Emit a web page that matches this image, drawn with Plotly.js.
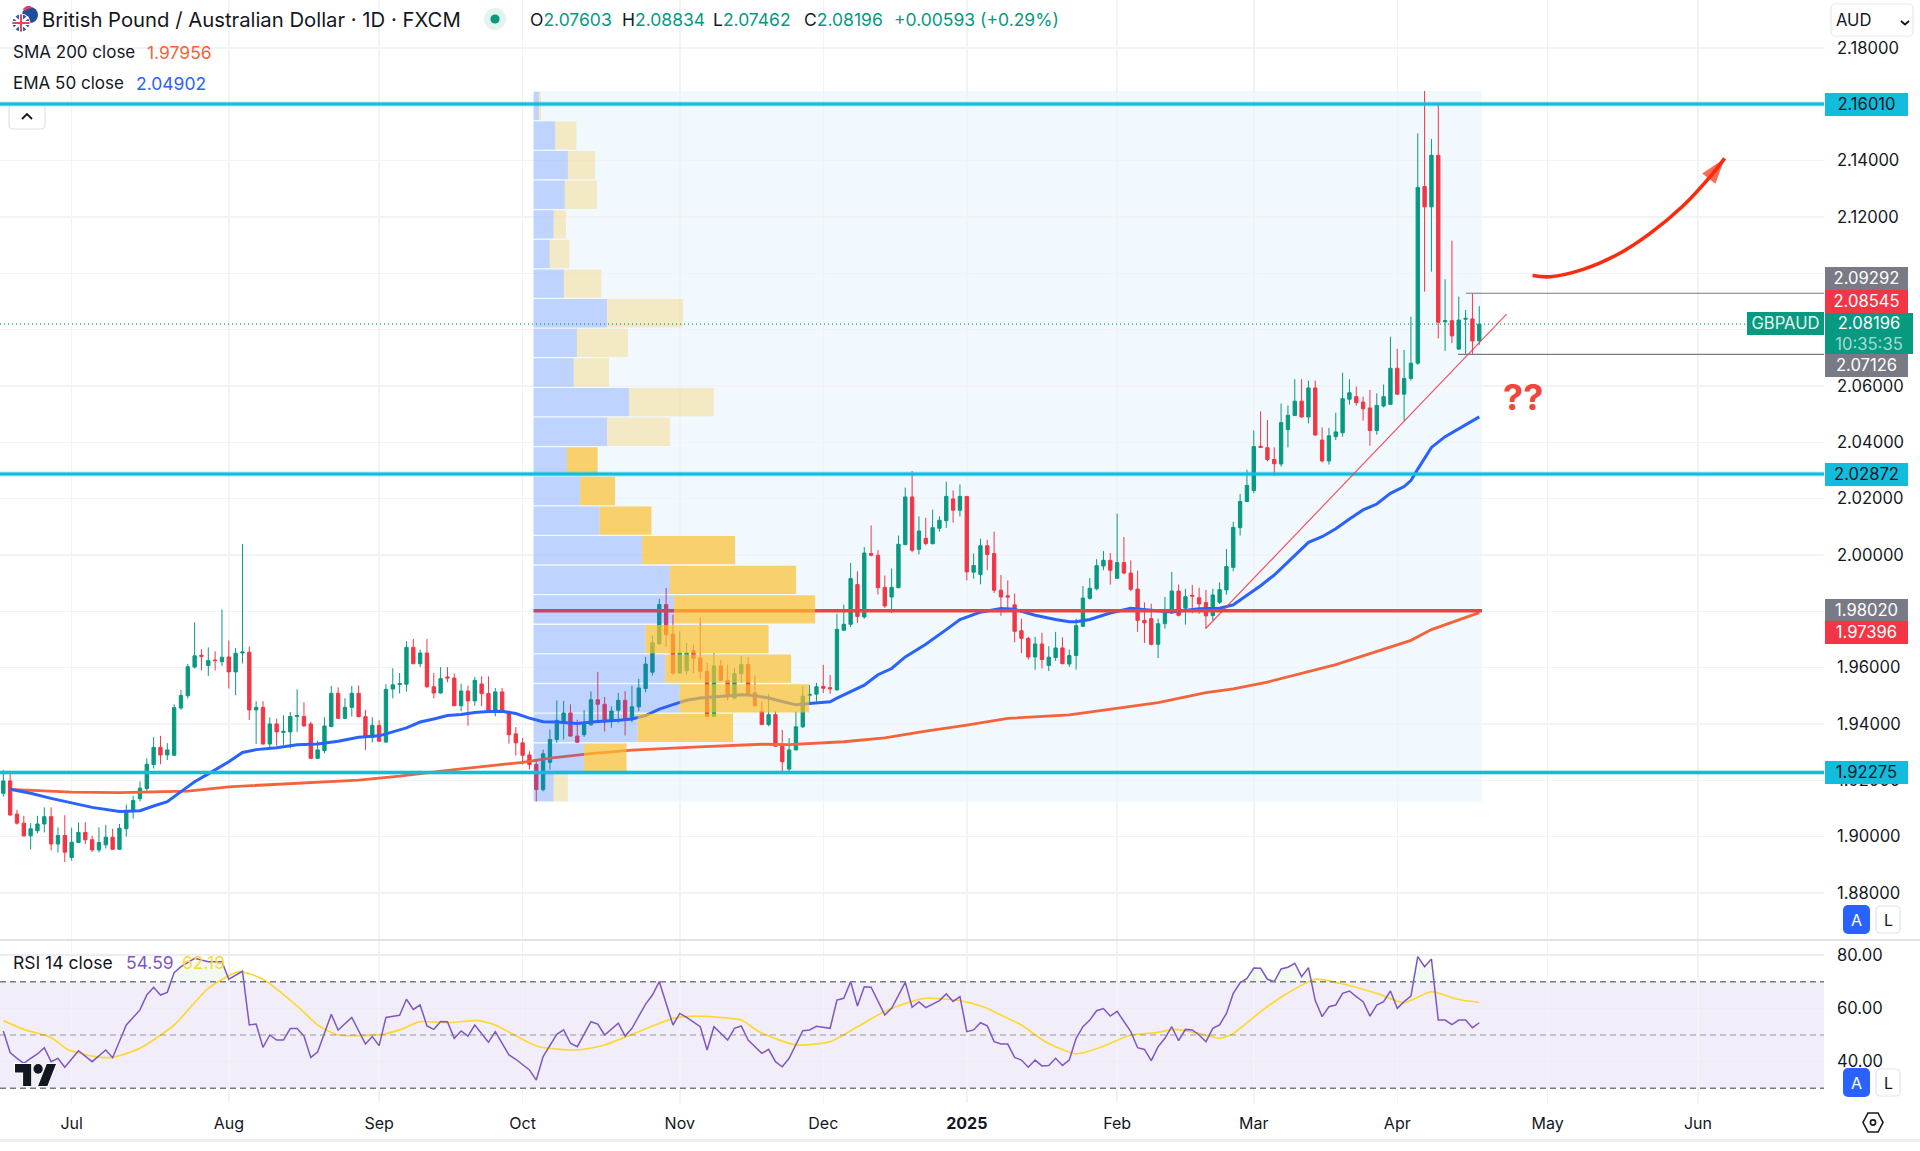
<!DOCTYPE html>
<html><head><meta charset="utf-8">
<script src="https://cdn.plot.ly/plotly-3.0.1.min.js"></script>
<style>html,body{margin:0;padding:0;background:#fff}#c{width:1920px;height:1151px}</style>
</head><body><div id="c"></div>
<script>
const opens=[1.9154,1.9198,1.9080,1.9048,1.9003,1.9021,1.9045,1.9071,1.8974,1.9004,
1.8926,1.8979,1.9015,1.8989,1.8953,1.8971,1.8998,1.8955,1.9028,1.9091,
1.9135,1.9171,1.9256,1.9317,1.9290,1.9289,1.9457,1.9500,1.9602,1.9644,
1.9608,1.9627,1.9621,1.9638,1.9585,1.9652,1.9655,1.9450,1.9459,1.9329,
1.9400,1.9370,1.9372,1.9426,1.9427,1.9400,1.9278,1.9306,1.9391,1.9509,
1.9420,1.9459,1.9509,1.9426,1.9353,1.9395,1.9336,1.9524,1.9540,1.9541,
1.9672,1.9614,1.9652,1.9532,1.9510,1.9567,1.9563,1.9465,1.9517,1.9482,
1.9542,1.9508,1.9446,1.9514,1.9445,1.9365,1.9333,1.9290,1.9256,1.9167,
1.9264,1.9345,1.9407,1.9439,1.9357,1.9362,1.9397,1.9486,1.9470,1.9409,
1.9449,1.9484,1.9415,1.9461,1.9526,1.9584,1.9685,1.9824,1.9719,1.9581,
1.9589,1.9660,1.9634,1.9587,1.9427,1.9606,1.9555,1.9492,1.9579,1.9611,
1.9511,1.9445,1.9398,1.9433,1.9320,1.9240,1.9308,1.9390,1.9502,1.9506,
1.9533,1.9529,1.9521,1.9733,1.9754,1.9895,1.9780,2.0005,1.9999,1.9885,
1.9851,1.9884,2.0037,2.0206,2.0020,2.0059,2.0040,2.0095,2.0122,2.0199,
2.0159,2.0208,1.9939,1.9931,2.0033,2.0005,1.9875,1.9855,1.9823,1.9731,
1.9704,1.9638,1.9684,1.9608,1.9636,1.9670,1.9613,1.9643,1.9747,1.9846,
1.9880,1.9961,1.9981,1.9917,1.9973,1.9936,1.9879,1.9768,1.9774,1.9683,
1.9756,1.9794,1.9872,1.9811,1.9857,1.9848,1.9831,1.9785,1.9832,1.9876,
1.9956,2.0097,2.0190,2.0229,2.0386,2.0381,2.0339,2.0323,2.0445,2.0495,
2.0546,2.0490,2.0593,2.0408,2.0334,2.0420,2.0434,2.0553,2.0562,2.0543,
2.0522,2.0442,2.0529,2.0535,2.0663,2.0571,2.0627,2.0681,2.1308,2.1236,
2.1419,2.0828,2.0832,2.0731,2.0837,2.0838,2.07603];
const highs=[1.9237,1.9234,1.9095,1.9074,1.9048,1.9074,1.9104,1.9104,1.9033,1.9076,
1.9032,1.9051,1.9051,1.9003,1.9033,1.9042,1.9028,1.9045,1.9114,1.9145,
1.9196,1.9278,1.9353,1.9358,1.9332,1.9470,1.9521,1.9613,1.9761,1.9665,
1.9672,1.9658,1.9807,1.9696,1.9670,2.0039,1.9675,1.9481,1.9481,1.9424,
1.9419,1.9431,1.9443,1.9523,1.9477,1.9408,1.9341,1.9424,1.9535,1.9530,
1.9491,1.9535,1.9537,1.9450,1.9424,1.9413,1.9541,1.9598,1.9581,1.9694,
1.9702,1.9664,1.9702,1.9581,1.9602,1.9602,1.9579,1.9543,1.9536,1.9567,
1.9569,1.9569,1.9528,1.9528,1.9445,1.9389,1.9350,1.9303,1.9271,1.9309,
1.9380,1.9484,1.9482,1.9470,1.9415,1.9449,1.9516,1.9585,1.9496,1.9463,
1.9510,1.9517,1.9536,1.9560,1.9638,1.9714,1.9844,1.9883,1.9788,1.9729,
1.9688,1.9682,1.9779,1.9617,1.9652,1.9628,1.9611,1.9599,1.9643,1.9638,
1.9572,1.9481,1.9507,1.9445,1.9379,1.9350,1.9444,1.9535,1.9538,1.9546,
1.9610,1.9574,1.9792,1.9824,1.9972,1.9942,2.0028,2.0105,2.0017,1.9927,
1.9952,2.0069,2.0239,2.0298,2.0137,2.0132,2.0161,2.0137,2.0260,2.0229,
2.0251,2.0208,2.0005,2.0058,2.0054,2.0083,1.9929,1.9910,1.9863,1.9774,
1.9709,1.9709,1.9724,1.9676,1.9727,1.9708,1.9664,1.9774,1.9890,1.9918,
1.9985,2.0014,2.0007,2.0147,2.0064,1.9981,1.9944,1.9832,1.9827,1.9774,
1.9851,1.9940,1.9895,1.9880,1.9894,1.9884,1.9876,1.9880,1.9903,2.0021,
2.0118,2.0217,2.0303,2.0442,2.0510,2.0479,2.0382,2.0538,2.0531,2.0624,
2.0624,2.0619,2.0619,2.0453,2.0451,2.0505,2.0647,2.0624,2.0598,2.0562,
2.0586,2.0574,2.0605,2.0775,2.0732,2.0728,2.0846,2.1497,2.1647,2.1477,
2.1598,2.0979,2.1116,2.0917,2.0870,2.09292,2.08834];
const lows=[1.9142,1.9074,1.9043,1.9000,1.8955,1.9012,1.9015,1.8951,1.8944,1.8910,
1.8915,1.8978,1.8974,1.8946,1.8944,1.8958,1.8953,1.8953,1.9000,1.9064,
1.9125,1.9160,1.9242,1.9257,1.9272,1.9287,1.9450,1.9491,1.9597,1.9590,
1.9571,1.9590,1.9606,1.9526,1.9502,1.9615,1.9414,1.9329,1.9327,1.9315,
1.9322,1.9326,1.9314,1.9372,1.9391,1.9277,1.9277,1.9296,1.9388,1.9419,
1.9417,1.9426,1.9424,1.9308,1.9334,1.9336,1.9334,1.9491,1.9508,1.9515,
1.9612,1.9602,1.9529,1.9491,1.9508,1.9548,1.9463,1.9445,1.9394,1.9465,
1.9463,1.9444,1.9427,1.9439,1.9330,1.9288,1.9256,1.9238,1.9125,1.9161,
1.9238,1.9333,1.9345,1.9356,1.9333,1.9354,1.9394,1.9409,1.9373,1.9387,
1.9404,1.9359,1.9406,1.9445,1.9513,1.9572,1.9682,1.9673,1.9574,1.9579,
1.9575,1.9581,1.9558,1.9427,1.9425,1.9555,1.9484,1.9489,1.9546,1.9504,
1.9463,1.9398,1.9392,1.9319,1.9230,1.9230,1.9306,1.9386,1.9468,1.9479,
1.9510,1.9507,1.9519,1.9730,1.9744,1.9759,1.9774,1.9995,1.9860,1.9812,
1.9794,1.9882,2.0034,2.0010,2.0002,2.0034,2.0038,2.0083,2.0096,2.0115,
2.0137,1.9910,1.9916,1.9896,1.9946,1.9865,1.9784,1.9804,1.9690,1.9652,
1.9629,1.9593,1.9597,1.9588,1.9624,1.9612,1.9603,1.9593,1.9744,1.9842,
1.9875,1.9946,1.9895,1.9915,1.9931,1.9872,1.9727,1.9688,1.9679,1.9634,
1.9739,1.9792,1.9782,1.9753,1.9793,1.9791,1.9738,1.9767,1.9826,1.9859,
1.9942,2.0069,2.0188,2.0219,2.0380,2.0333,2.0282,2.0314,2.0382,2.0494,
2.0488,2.0467,2.0424,2.0329,2.0321,2.0408,2.0420,2.0534,2.0530,2.0477,
2.0388,2.0427,2.0524,2.0533,2.0569,2.0477,2.0619,2.0675,2.0935,2.1006,
2.0769,2.0725,2.0752,2.0728,2.0714,2.07126,2.07462];
const closes=[1.9198,1.9077,1.9048,1.9003,1.9028,1.9045,1.9071,1.8974,1.9004,1.8945,
1.8980,1.9015,1.8989,1.8953,1.8979,1.8998,1.8955,1.9030,1.9091,1.9128,
1.9172,1.9257,1.9317,1.9290,1.9308,1.9458,1.9501,1.9603,1.9642,1.9640,
1.9625,1.9625,1.9637,1.9585,1.9651,1.9656,1.9450,1.9459,1.9329,1.9400,
1.9372,1.9374,1.9427,1.9430,1.9393,1.9278,1.9308,1.9393,1.9509,1.9420,
1.9459,1.9509,1.9426,1.9353,1.9395,1.9339,1.9523,1.9539,1.9543,1.9672,
1.9614,1.9652,1.9532,1.9510,1.9561,1.9563,1.9465,1.9517,1.9482,1.9555,
1.9508,1.9446,1.9514,1.9442,1.9362,1.9333,1.9289,1.9256,1.9167,1.9294,
1.9345,1.9413,1.9439,1.9357,1.9335,1.9398,1.9486,1.9470,1.9407,1.9446,
1.9484,1.9415,1.9461,1.9528,1.9613,1.9688,1.9824,1.9718,1.9581,1.9652,
1.9652,1.9633,1.9587,1.9427,1.9606,1.9555,1.9496,1.9579,1.9611,1.9508,
1.9465,1.9398,1.9433,1.9321,1.9266,1.9308,1.9390,1.9499,1.9505,1.9532,
1.9527,1.9525,1.9736,1.9754,1.9916,1.9782,2.0007,1.9999,1.9884,1.9819,
1.9885,2.0038,2.0206,2.0017,2.0085,2.0041,2.0097,2.0123,2.0208,2.0159,
2.0208,1.9940,1.9963,2.0033,2.0002,1.9875,1.9851,1.9851,1.9729,1.9704,
1.9638,1.9684,1.9629,1.9637,1.9670,1.9614,1.9643,1.9749,1.9847,1.9882,
1.9962,1.9981,1.9946,1.9973,1.9936,1.9878,1.9768,1.9759,1.9683,1.9756,
1.9794,1.9872,1.9786,1.9852,1.9854,1.9826,1.9784,1.9858,1.9877,1.9959,
2.0098,2.0190,2.0247,2.0385,2.0382,2.0339,2.0324,2.0470,2.0496,2.0546,
2.0490,2.0593,2.0426,2.0334,2.0423,2.0437,2.0555,2.0576,2.0541,2.0519,
2.0442,2.0531,2.0562,2.0663,2.0571,2.0627,2.0681,2.1305,2.1236,2.1419,
2.0826,2.0832,2.0778,2.0834,2.0840,2.0760,2.08196];

const emaBars=[1,4,7,10,13,17,20,22,24,26,28,30,33,35,37,40,43,46,49,52,55,59,61,63,65,67,69,71,73,75,77,79,81,84,87,90,92,94,96,98,100,102,105,108,110,112,114,116,118,121,122,124,126,128,130,132,135,138,140,143,146,148,151,154,156,157,159,162,165,168,171,175,178,180,182,184,186,188,190,191,193,195,197,199,201,203,205,206,207,209,211,213,216];
const emaVals=[1.9168,1.9154,1.9136,1.9119,1.9104,1.9089,1.9092,1.9109,1.9124,1.9160,1.9195,1.9223,1.9266,1.9299,1.9309,1.9316,1.9326,1.9329,1.9339,1.9353,1.9358,1.9386,1.9407,1.9418,1.9430,1.9434,1.9441,1.9444,1.9445,1.9437,1.9421,1.9408,1.9407,1.9402,1.9409,1.9413,1.9418,1.9430,1.9453,1.9469,1.9484,1.9492,1.9498,1.9504,1.9501,1.9492,1.9480,1.9468,1.9473,1.9479,1.9492,1.9515,1.9538,1.9575,1.9597,1.9638,1.9683,1.9735,1.9771,1.9797,1.9810,1.9807,1.9786,1.9771,1.9763,1.9763,1.9771,1.9794,1.9811,1.9804,1.9798,1.9809,1.9811,1.9823,1.9856,1.9891,1.9929,1.9974,2.0021,2.0045,2.0065,2.0093,2.0128,2.0160,2.0181,2.0219,2.0243,2.0264,2.0305,2.0382,2.0420,2.0447,2.04902];
const smaBars=[1,4,10,17,22,27,33,40,47,52,58,66,76,80,86,92,101,106,111,115,123,129,135,141,147,156,162,169,176,180,185,190,195,200,206,209,212,216];
const smaVals=[1.9168,1.9165,1.9158,1.9156,1.9159,1.9162,1.9177,1.9185,1.9195,1.9201,1.9215,1.9238,1.9264,1.9279,1.9295,1.9307,1.9318,1.9324,1.9328,1.9327,1.9337,1.9351,1.9375,1.9396,1.9420,1.9432,1.9452,1.9476,1.9511,1.9525,1.9549,1.9581,1.9611,1.9650,1.9697,1.9735,1.9762,1.97956];

const rsiBars=[0,1,2,3,4,5,6,7,8,9,11,13,15,16,18,20,21,22,23,24,25,26,28,30,32,33,35,36,37,38,39,40,41,42,43,44,45,46,48,49,51,53,54,55,56,57,58,59,60,61,62,63,64,65,66,67,68,69,71,72,74,75,76,77,78,79,81,82,83,84,86,87,88,90,91,92,94,95,96,98,99,100,102,103,104,106,107,108,109,111,112,113,114,115,117,118,119,121,122,123,124,125,126,127,129,130,132,133,134,135,137,138,139,140,141,142,143,144,145,146,147,148,149,150,151,152,153,154,155,156,157,158,159,160,161,162,163,164,165,166,167,168,169,170,171,172,173,174,175,176,177,178,179,180,181,182,183,184,185,186,187,188,189,190,191,192,193,194,195,196,197,198,199,200,201,202,203,204,205,206,207,208,209,210,211,212,213,214,215,216];
const rsiVals=[51.5,43.4,41.25,39.4,41.25,42.9,45.25,40,41.25,37.9,44.1,40,44.4,41.5,53.75,59.4,65,67.9,65,66,73.4,75.6,78.75,77.5,77.5,70.9,73.9,53.75,54.1,45.4,50,48.1,48.1,52.4,52.4,49.6,41.6,43.6,57.75,51.9,56.6,46.6,49.4,46,56.6,57.1,57.4,63.4,59.6,61.25,53.4,52.1,55.1,55,48.75,51.5,49.6,53.75,47.25,51.25,42.5,40.9,38.75,36.9,33.1,41.9,50.25,51.9,46.9,45.6,55,54.1,50,54.4,49.6,52.5,61.6,65,70,53.75,58.1,56.6,53.1,44.4,53.1,48.1,52.5,53.4,48.1,43.1,44.6,40,38.1,41.25,51.6,51.9,53.25,52.5,63.1,63.75,70,60.9,68.1,67.9,57.5,60,69.75,60.4,62.4,60.25,62.9,65.4,62.6,64.4,51.25,51.9,54.6,53.4,47.5,46.6,46.6,41.6,40.6,37.9,40.6,38.4,38.6,41.25,38.6,40.6,48.75,53.1,55.6,59.1,59.9,57.1,58.9,55,51.25,45.25,44.6,40.4,45.6,48.75,53.1,47.9,52.1,51.9,50,47.5,52.5,53.75,58.1,65.6,69.6,71.25,75.1,75,70.9,70,74.75,75.4,76.9,71.9,75.25,62.9,56.9,60.6,61.25,65.6,66.5,64.4,62.5,57.1,61.25,62.5,66.5,60,62.5,64.6,79.4,75.6,78.5,55.6,55.6,53.9,55.6,55.6,52.75,54.59];
const rsiMaBars=[0,3,7,9.4,13,16,20,25,30,34.5,38,43.4,46,49,55.5,58,61,65,69.4,72,75.7,78.4,84,88,93.6,98,100.8,108,110.6,116,121,125,129.4,134.8,140,143.6,146.3,149,152.5,157,160.6,165,168.7,171.4,175,178,180,184,187.5,192,195.6,201,205,209,212.6,216];
const rsiMaVals=[55.4,52.1,49.1,44.6,42.1,41.6,45,53.75,67.5,73.75,70.9,60,53.75,50,50.25,51.9,55,54.6,55.4,53.75,48.75,45.6,44.4,46.25,51.9,56.25,57.1,55.6,51.25,46.25,47.5,53.1,59.4,63.75,62.9,60.4,57.1,53.75,47.5,42.9,45.4,50,50.9,52.1,50.6,48.75,50.6,58.75,65,70.9,69.4,65.6,62.1,66.25,63.5,62.19];

const vpHigh=2.1647, vpLow=1.9123, vpFirstBar=77.6, vpLastBar=216.4;
const vpUp=[0.78,3.15,5.03,4.57,2.94,2.36,4.43,10.76,6.34,5.88,13.98,10.76,4.90,6.81,9.67,15.88,19.95,20.55,16.36,19.29,21.38,15.23,7.39,2.93];
const vpDown=[0.32,3.12,3.97,4.71,1.81,2.87,5.49,11.12,7.49,5.17,12.44,9.22,4.48,5.12,7.58,13.61,18.47,20.65,18.04,18.40,18.94,13.96,6.22,2.09];
const vpValueArea=[0,0,0,0,0,0,0,0,0,0,0,0,1,1,1,1,1,1,1,1,1,1,1,0];
const pocPrice=1.9802;

const levels=[2.16010,2.02872,1.92275];
const rangeHigh=2.09292, rangeLow=2.07126, lastPrice=2.08196;
const trendBars=[176,220], trendPrices=[1.9740,2.0855];
const arrowBars=[223.8,226.4,231.2,236.1,241,245.8,250.2,251.9];
const arrowPrices=[2.0992,2.0988,2.1014,2.1065,2.1142,2.1239,2.1355,2.1408];

const monthBars=[10,33,55,76,99,120,141,163,183,204,226,248];
const monthLabels=['Jul','Aug','Sep','Oct','Nov','Dec','<b>2025</b>','Feb','Mar','Apr','May','Jun'];
const priceTicks=[1.88,1.90,1.92,1.94,1.96,1.98,2.00,2.02,2.04,2.06,2.08,2.10,2.12,2.14,2.16,2.18];
const priceTickLabels=['1.88000','1.90000','1.92000','1.94000','1.96000','','2.00000','2.02000','2.04000','2.06000','','','2.12000','2.14000','','2.18000'];
const rsiTicks=[40,60,80];

const W=1920,H=1151,PW=1824,PH=1103;
const px=x=>x/PW, py=y=>(PH-y)/PH;
const FONT='Inter, "Noto Sans", sans-serif';
const GREEN='#089981',RED='#f23645',CYAN='#12bcdc',GRAY='#787b86',INK='#131722';
const bars=opens.map((_,i)=>i);
const xRange=[-0.483,266.45], yRange=[1.86331,2.19704];
const svg=(w,h,b)=>'data:image/svg+xml;utf8,'+encodeURIComponent(`<svg xmlns="http://www.w3.org/2000/svg" width="${w}" height="${h}" viewBox="0 0 ${w} ${h}" preserveAspectRatio="none">${b}</svg>`);
const img=(x,y,w,h,b)=>({source:svg(w,h,b),xref:'paper',yref:'paper',x:px(x),y:py(y),sizex:w/PW,sizey:h/PH,xanchor:'left',yanchor:'top',sizing:'stretch',layer:'above'});
const box=(w,h,fill,stroke)=>`<rect x="1" y="1" width="${w-2}" height="${h-2}" rx="4" fill="${fill}" stroke="${stroke}" stroke-width="1.2"/>`;

const traces=[
 {type:'candlestick',x:bars,open:opens,high:highs,low:lows,close:closes,xaxis:'x',yaxis:'y',width:0.76,whiskerwidth:0,hoverinfo:'skip',showlegend:false,
  increasing:{line:{color:GREEN,width:1},fillcolor:GREEN},decreasing:{line:{color:RED,width:1},fillcolor:RED}},
 {type:'scatter',mode:'lines',x:smaBars,y:smaVals,xaxis:'x',yaxis:'y',line:{color:'#f4633a',width:2.8},hoverinfo:'skip',showlegend:false},
 {type:'scatter',mode:'lines',x:emaBars,y:emaVals,xaxis:'x',yaxis:'y',line:{color:'#2a62ff',width:3},hoverinfo:'skip',showlegend:false},
 {type:'scatter',mode:'lines',x:[vpFirstBar,vpLastBar],y:[pocPrice,pocPrice],xaxis:'x',yaxis:'y',line:{color:'#f2403f',width:3.5},hoverinfo:'skip',showlegend:false},
 {type:'bar',orientation:'h',y:vpUp.map((_,i)=>vpHigh-(i+.5)*(vpHigh-vpLow)/24),x:vpUp,base:vpUp.map(()=>vpFirstBar),width:(vpHigh-vpLow)/24*0.955,
  marker:{color:'rgba(41,98,255,0.25)',line:{width:0}},xaxis:'x2',yaxis:'y3',hoverinfo:'skip',showlegend:false},
 {type:'bar',orientation:'h',y:vpDown.map((_,i)=>vpHigh-(i+.5)*(vpHigh-vpLow)/24),x:vpDown,base:vpUp.map(v=>vpFirstBar+v),width:(vpHigh-vpLow)/24*0.955,
  marker:{color:vpValueArea.map(a=>a?'rgba(251,192,45,0.7)':'rgba(251,192,45,0.27)'),line:{width:0}},xaxis:'x2',yaxis:'y3',hoverinfo:'skip',showlegend:false},
 {type:'scatter',mode:'lines',x:[0,216],y:[70,70],xaxis:'x',yaxis:'y2',line:{width:0},hoverinfo:'skip',showlegend:false},
 {type:'scatter',mode:'lines',x:rsiBars,y:rsiVals.map(v=>Math.max(v,70)),xaxis:'x',yaxis:'y2',fill:'tonexty',fillcolor:'rgba(76,175,80,0.08)',line:{width:0},hoverinfo:'skip',showlegend:false},
 {type:'scatter',mode:'lines',x:rsiMaBars,y:rsiMaVals,xaxis:'x',yaxis:'y2',line:{color:'#fdd835',width:1.7,shape:'spline',smoothing:0.6},hoverinfo:'skip',showlegend:false},
 {type:'scatter',mode:'lines',x:rsiBars,y:rsiVals,xaxis:'x',yaxis:'y2',line:{color:'#7e57c2',width:1.5},hoverinfo:'skip',showlegend:false},
 {type:'scatter',mode:'lines+markers',x:arrowBars,y:arrowPrices,xaxis:'x2',yaxis:'y3',line:{color:'#fb2b0e',width:3.6,shape:'spline'},
  marker:{symbol:'arrow',angleref:'previous',color:'#fb2b0e',size:arrowBars.map((_,i)=>i==arrowBars.length-1?27:0),line:{width:0}},hoverinfo:'skip',showlegend:false}
];

const hline=(y,x0,x1,color,width,dash)=>({type:'line',xref:'paper',yref:'y',x0:px(x0),x1:px(x1),y0:y,y1:y,line:{color,width,dash:dash||'solid'},layer:'above'});
const fur=(x0,y0,x1,y1,color,width)=>({type:'line',xref:'paper',yref:'paper',x0:px(x0),x1:px(x1),y0:py(y0),y1:py(y1),line:{color,width},layer:'above'});
const shapes=[
 {type:'rect',xref:'x',yref:'y',x0:vpFirstBar,x1:vpLastBar,y0:vpLow,y1:vpHigh,fillcolor:'rgba(0,140,240,0.055)',line:{width:0},layer:'below'},
 {type:'rect',xref:'paper',yref:'y2',x0:0,x1:1,y0:30,y1:70,fillcolor:'rgba(126,87,194,0.1)',line:{width:0},layer:'below'},
 {type:'line',xref:'paper',yref:'y2',x0:0,x1:1,y0:70,y1:70,line:{color:GRAY,width:1.5,dash:'6px,4px'},layer:'above'},
 {type:'line',xref:'paper',yref:'y2',x0:0,x1:1,y0:50,y1:50,line:{color:'rgba(120,123,134,0.5)',width:1.5,dash:'6px,4px'},layer:'above'},
 {type:'line',xref:'paper',yref:'y2',x0:0,x1:1,y0:30,y1:30,line:{color:GRAY,width:1.5,dash:'6px,4px'},layer:'above'},
 fur(0,940,W,940,'#e0e3eb',2),
 fur(0,1140.5,W,1140.5,'#eceef3',3),
 {type:'line',xref:'paper',yref:'y',x0:0,x1:px(1746),y0:lastPrice,y1:lastPrice,line:{color:GREEN,width:1.2,dash:'1px,3px'},layer:'above'},
 hline(rangeHigh,1466,PW,GRAY,1.2),
 hline(rangeLow,1458,PW,GRAY,1.2),
 ...levels.map(l=>hline(l,0,PW,'rgba(18,188,220,0.3)',5)),
 ...levels.map(l=>hline(l,0,PW,CYAN,3)),
 {type:'line',xref:'x',yref:'y',x0:trendBars[0],x1:trendBars[1],y0:trendPrices[0],y1:trendPrices[1],line:{color:'rgba(242,54,69,0.85)',width:1.2},layer:'above'}
];

const tag=(text,y,yshift,bg,color,w,h,x)=>({xref:'paper',yref:'y',x:px(x||1825),y,yshift,xanchor:'left',yanchor:'middle',text,showarrow:false,bgcolor:bg,width:w||83,height:h||22.5,align:'center',valign:'middle',borderpad:0,borderwidth:0,font:{family:FONT,size:16.6,color}});
const t=(text,x,y,size,color,anchor)=>({xref:'paper',yref:'paper',x:px(x),y:py(y),xanchor:anchor||'left',yanchor:'middle',text,showarrow:false,align:'left',borderpad:0,font:{family:FONT,size,color}});
const annotations=[
 t('British Pound / Australian Dollar · 1D · FXCM',41,19.5,20.3,INK),
 t(`O<span style="color:${GREEN}">2.07603</span>`,529,19.5,17.5,INK),
 t(`H<span style="color:${GREEN}">2.08834</span>`,621,19.5,17.5,INK),
 t(`L<span style="color:${GREEN}">2.07462</span>`,712,19.5,17.5,INK),
 t(`C<span style="color:${GREEN}">2.08196</span>`,803,19.5,17.5,INK),
 t('+0.00593 (+0.29%)',893,19.5,17.5,GREEN),
 t('SMA 200 close',12,52,17,INK),
 t('1.97956',146,52,17.5,'#f4633a'),
 t('EMA 50 close',12,83.5,17,INK),
 t('2.04902',135,83.5,17.5,'#2a62ff'),
 t('RSI 14 close',12,962,17.5,INK),
 t('54.59',125,962,17.5,'#7e57c2'),
 t('62.19',181,962,17.5,'#fdd835'),
 t('AUD',1835,20,16.6,INK),
 t('A',1856,919.5,16,'#fff','center'),
 t('L',1888,919.5,16,INK,'center'),
 t('A',1856,1082.5,16,'#fff','center'),
 t('L',1888,1082.5,16,INK,'center'),
 {xref:'x',yref:'y',x:222.4,y:2.0561,text:'<b>??</b>',showarrow:false,font:{family:FONT,size:36,color:'#f2463c'}},
 tag('2.16010',2.16010,0,CYAN,INK),
 tag('2.02872',2.02872,0,CYAN,INK),
 tag('1.92275',1.92275,0,CYAN,INK),
 tag('2.09292',2.09292,14.7,GRAY,'#fff'),
 tag('2.08545',2.08545,13,RED,'#fff'),
 tag(`2.08196<br><span style="color:#a6dcd2">10:35:35</span>`,2.08196,-9.3,GREEN,'#fff',88,41),
 tag('GBPAUD',2.08196,0.3,GREEN,'#e4f5f1',77,22.5,1747),
 tag('2.07126',2.07126,-11,GRAY,'#fff'),
 tag('1.98020',1.98020,0,GRAY,'#fff'),
 tag('1.97396',1.97396,-4.3,RED,'#fff')
];

const images=[
 img(10,6,28,27,`<circle cx="20" cy="9" r="8" fill="#1f4e9c"/><path d="M14 4a8 8 0 0 1 7-3" stroke="#e8425a" stroke-width="3" fill="none"/><circle cx="11" cy="17" r="9.5" fill="#fff"/><circle cx="11" cy="17" r="8.5" fill="#2b5fa8"/><path d="M4 11 18 23M18 11 4 23" stroke="#fff" stroke-width="2.6"/><path d="M11 8.5v17M2.5 17h17" stroke="#fff" stroke-width="4"/><path d="M11 8.5v17M2.5 17h17" stroke="#e8425a" stroke-width="2"/>`),
 img(484,8,22,22,`<circle cx="11" cy="11" r="11" fill="#e3f3f0"/><circle cx="11" cy="11" r="4.6" fill="${GREEN}"/>`),
 img(8,103,38,27,box(38,27,'#fff','#dfe2ea')+`<path d="M14 16l5-5 5 5" fill="none" stroke="${INK}" stroke-width="1.8"/>`),
 img(1830,3,84,34,box(84,34,'#fff','#e8eaf0')+`<path d="M71 18l4 3.5 4-3.5" fill="none" stroke="${INK}" stroke-width="1.8"/>`),
 img(1843,905,27,29,`<rect width="27" height="29" rx="5" fill="#2962ff"/>`),
 img(1875,905,26,29,box(26,29,'#fff','#e0e3eb')),
 img(1843,1068,27,29,`<rect width="27" height="29" rx="5" fill="#2962ff"/>`),
 img(1875,1068,26,29,box(26,29,'#fff','#e0e3eb')),
 img(13,1062,46,26,`<g transform="translate(2 2) scale(1.155 1.22) translate(0 -4)"><path d="M14 22H7V11H0V4h14v18zM28 22h-8l7.5-18h8L28 22z" fill="${INK}" stroke="#fff" stroke-width="1.5" paint-order="stroke"/><circle cx="20" cy="8" r="4" fill="${INK}"/></g>`),
 img(1862,1112,22,21,`<path d="M6 1h10l5 9.500-5 9.500H6L1 10.500z" fill="none" stroke="${INK}" stroke-width="1.6"/><circle cx="11" cy="10.500" r="2.600" fill="none" stroke="${INK}" stroke-width="1.6"/>`)
];

const gridC='#f2f3f6';
const layout={
 width:W,height:H,margin:{l:0,r:W-PW,t:0,b:H-PH,pad:0},paper_bgcolor:'#fff',plot_bgcolor:'#fff',showlegend:false,barmode:'overlay',hovermode:false,dragmode:false,
 xaxis:{domain:[0,1],range:xRange,anchor:'y2',tickmode:'array',tickvals:monthBars,ticktext:monthLabels,showgrid:true,gridcolor:gridC,gridwidth:1.5,zeroline:false,showline:false,ticks:'',ticklabelstandoff:9,tickfont:{family:FONT,size:16,color:INK},rangeslider:{visible:false},fixedrange:true},
 xaxis2:{domain:[0,1],range:xRange,overlaying:'x',anchor:'y3',visible:false,fixedrange:true},
 yaxis:{domain:[(PH-940)/PH,1],range:yRange,anchor:'x',side:'right',tickmode:'array',tickvals:priceTicks,ticktext:priceTickLabels,showgrid:true,gridcolor:gridC,gridwidth:1.5,zeroline:false,showline:false,ticks:'',ticklabelstandoff:12,tickfont:{family:FONT,size:16.6,color:INK},fixedrange:true},
 yaxis2:{domain:[0,(PH-941)/PH],range:[24.5,85.25],anchor:'x',side:'right',tickmode:'array',tickvals:rsiTicks,tickformat:'.2f',showgrid:true,gridcolor:'#ecedf2',gridwidth:1.2,zeroline:false,showline:false,ticks:'',ticklabelstandoff:12,tickfont:{family:FONT,size:16.6,color:INK},fixedrange:true},
 yaxis3:{domain:[(PH-940)/PH,1],range:yRange,overlaying:'y',anchor:'x2',side:'right',visible:false,fixedrange:true},
 shapes,annotations,images
};
Plotly.newPlot('c',traces,layout,{displayModeBar:false,staticPlot:true});
</script></body></html>
